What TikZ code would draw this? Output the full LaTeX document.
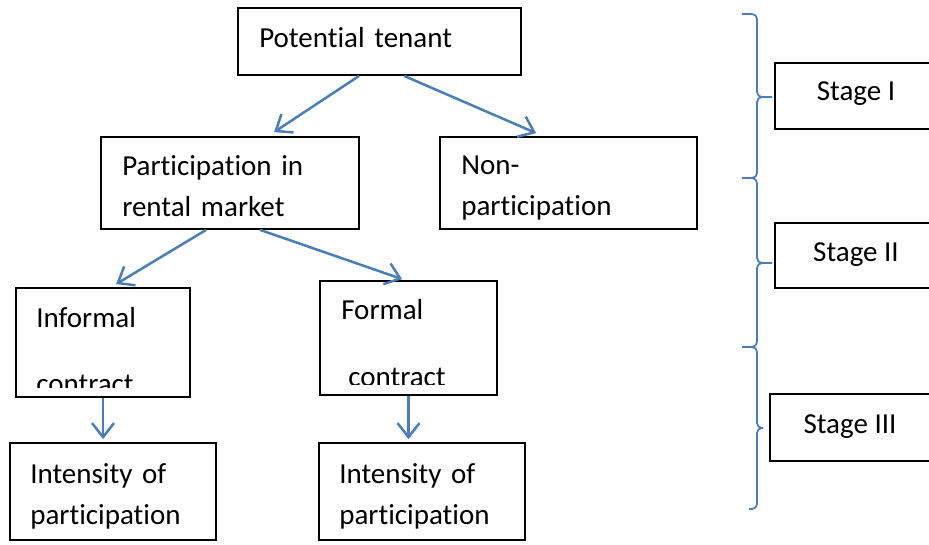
\documentclass[tikz,border=0pt]{standalone}
\usepackage{fontspec}
\setmainfont{Carlito}[RawFeature=-liga, RawFeature=-clig, RawFeature=-calt, RawFeature=-dlig]
\usetikzlibrary{arrows.meta,calc}
\definecolor{linkblue}{RGB}{74,126,187}

\begin{document}
\begin{tikzpicture}[x=1pt,y=-1pt,
  box/.style={draw, line width=1.8pt, inner sep=0pt},
  txt/.style={inner sep=0pt, anchor=base west, align=left, text width=300pt,
    font=\fontsize{29}{41}\selectfont},
  stagetxt/.style={inner sep=0pt, anchor=base, font=\fontsize{29}{41}\selectfont},
  link/.style={linkblue, line width=2.5pt, -{Straight Barb[length=14pt,width=22pt]}},
  brace/.style={linkblue, line width=1.7pt, rounded corners=5pt}]
\useasboundingbox (0,0) rectangle (929,544);
\clip (0,0) rectangle (929,544);
% Decision tree
\node[box, minimum width=283pt, minimum height=67pt] (tenant) at (379.5,41.5) {};
\node[box, minimum width=258pt, minimum height=92pt] (part) at (230,183) {};
\node[box, minimum width=257pt, minimum height=92pt] (nonpart) at (568.5,183) {};
\node[box, minimum width=174pt, minimum height=109pt] (informal) at (103,342.5) {};
\node[box, minimum width=177pt, minimum height=114pt] (formal) at (408.5,338) {};
\node[box, minimum width=206pt, minimum height=97pt] (intL) at (113,491.5) {};
\node[box, minimum width=206pt, minimum height=97pt] (intR) at (422,491.5) {};
\node[txt] (tenantT) at ($(tenant.north west)+(22,40)$) {Potential tenant};
\node[txt] (partT) at ($(part.north west)+(22,39)$) {Participation in\\rental market};
\node[txt] (nonpartT) at ($(nonpart.north west)+(22,38)$) {Non-\\participation};
\node[txt] (intLT) at ($(intL.north west)+(21,41)$) {Intensity of\\participation};
\node[txt] (intRT) at ($(intR.north west)+(21,41)$) {Intensity of\\participation};
% Contract texts (cut off at the bottom)
\begin{scope}
  \clip (informal.north west) rectangle ($(informal.south east)+(0,-10)$);
  \node[txt] (informalA) at ($(informal.north west)+(21,40)$) {Informal};
  \node[txt] (informalB) at ($(informal.north west)+(21,106)$) {contract};
\end{scope}
\begin{scope}
  \clip (formal.north west) rectangle ($(formal.south east)+(0,-11)$);
  \node[txt] (formalA) at ($(formal.north west)+(22,39)$) {Formal};
  \node[txt] (formalB) at ($(formal.north west)+(29,106)$) {contract};
\end{scope}
% Arrows
\draw[link] ($(tenant.south west)+(122,0)$) -- ($(part.north west)+(174,-4)$);
\draw[link] ($(tenant.south west)+(167,0)$) -- ($(nonpart.north west)+(97,-3)$);
\draw[link] ($(part.south west)+(106,0)$) -- ($(informal.north west)+(101,-3)$);
\draw[link] ($(part.south west)+(160,0)$) -- ($(formal.north west)+(83,-1)$);
\draw[link, shorten >=3pt] (informal.south) -- (informal.south |- intL.north);
\draw[link, shorten >=3pt] (formal.south) -- (formal.south |- intR.north);
% Stages
\node[box, minimum width=162pt, minimum height=66pt] (stageA) at (856,96) {};
\node[box, minimum width=162pt, minimum height=65pt] (stageB) at (856,255.5) {};
\node[box, minimum width=160pt, minimum height=67pt] (stageC) at (850,427.5) {};
\node[stagetxt] (stageAT) at ($(stageA.north)+(0,38)$) {Stage I};
\node[stagetxt] (stageBT) at ($(stageB.north)+(0,39)$) {Stage II};
\node[stagetxt] (stageCT) at ($(stageC.north)+(0,40)$) {Stage III};
\foreach \ya/\yb/\yc/\xt/\xe in {14/97/178/772/742, 178/263/347/772/742, 347/428/509/763/749} {
  \draw[brace] (742,\ya) -- (757,\ya) -- (757,\yb) -- (\xt,\yb);
  \draw[brace] (\xt,\yb) -- (757,\yb) -- (757,\yc) -- (\xe,\yc);
}
\end{tikzpicture}
\end{document}
